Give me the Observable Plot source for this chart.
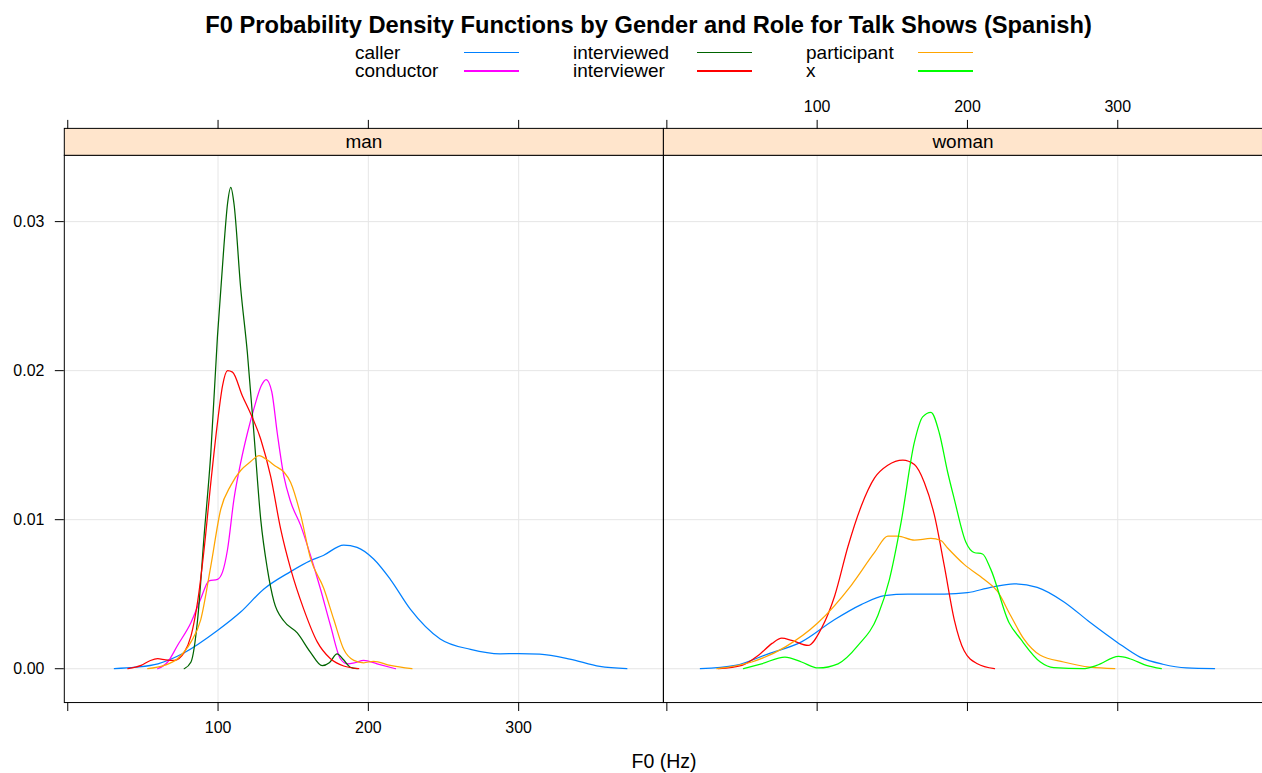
<!DOCTYPE html>
<html>
<head>
<meta charset="utf-8">
<script src="https://cdn.jsdelivr.net/npm/d3@7"></script>
<script src="https://cdn.jsdelivr.net/npm/@observablehq/plot@0.6"></script>
<style>
  html, body { margin: 0; padding: 0; background: #fff; overflow: hidden; }
  body { width: 1262px; height: 773px; position: relative; font-family: "Liberation Sans", Arial, Helvetica, sans-serif; color: #000; }
  .abs { position: absolute; white-space: nowrap; line-height: 1; }
  #title { font-weight: bold; font-size: 23.7px; top: 14px; left: 648.5px; transform: translateX(-50%); }
  .lg { font-size: 19px; line-height: 18px; }
  .ln { position: absolute; height: 1.4px; width: 55px; }
  #xlab { font-size: 19.5px; top: 752px; left: 664px; transform: translateX(-50%); }
  #chart { position: absolute; left: 0; top: 90px; line-height: 0; }
  #chart svg { display: block; }
</style>
</head>
<body>
<div id="title" class="abs">F0 Probability Density Functions by Gender and Role for Talk Shows (Spanish)</div>
<div id="legend"></div>
<div id="chart"></div>
<div id="xlab" class="abs">F0 (Hz)</div>
<script>
// ---- Data (F0 in Hz, density) ----
const genders = ["man", "woman"];
const roles = ["caller", "conductor", "interviewed", "interviewer", "participant", "x"];
const roleColors = ["#0080ff", "#ff00ff", "#006400", "#ff0000", "#ffa500", "#00ff00"];
const xTicks = [0, 100, 200, 300];
const yTicks = [0, 0.01, 0.02, 0.03];

const manCaller = [[31,0],[45,0.0001],[60,0.00033],[77.5,0.00107],[99.6,0.00256],[115,0.0038],[130.5,0.00535],[148,0.0065],[161.5,0.00725],[170,0.0076],[183.6,0.0083],[192.5,0.00814],[203.5,0.00736],[214.6,0.006],[227.9,0.004],[247.8,0.002],[268,0.0013],[287.6,0.001],[300,0.00102],[314,0.00098],[334,0.00065],[354,0.00015],[372,0]];
const manConductor = [[59.8,0],[66.5,0.00045],[73,0.00156],[82,0.0031],[88.5,0.0047],[94,0.0059],[99.6,0.006],[103,0.0065],[106.3,0.008],[110.6,0.0114],[115,0.0138],[119.5,0.0158],[124,0.0175],[128.8,0.019],[132,0.0194],[135.7,0.0186],[139.4,0.0158],[143.8,0.0129],[148.3,0.0112],[155,0.0096],[161.5,0.0076],[168,0.0054],[174.8,0.0029],[181.4,0.00067],[185.9,0.00033],[191,0.0004],[196.9,0.00056],[205.8,0.00033],[218,0]];
const manInterviewed = [[77.5,0],[82,0.00045],[86.4,0.0033],[90.7,0.0089],[95.2,0.0145],[99.6,0.0223],[104,0.0285],[106.3,0.0312],[108.5,0.0323],[110.6,0.0312],[115,0.0256],[119.5,0.0212],[124,0.0156],[128.4,0.01],[132.8,0.0067],[137.2,0.0045],[143.8,0.0032],[152.7,0.0024],[161.5,0.0011],[169.3,0.0002],[174,0.0004],[179.2,0.001],[183.5,0.0006],[188,0.0001],[192.5,0]];
const manInterviewer = [[40,0],[48.8,0.00022],[55,0.00055],[59.8,0.00067],[65,0.0006],[70.8,0.00056],[77.5,0.0011],[82,0.0022],[86.4,0.0045],[90.7,0.008],[95.2,0.0125],[99.6,0.0165],[103,0.019],[106.3,0.02],[109.6,0.0199],[116.2,0.0183],[121.7,0.0171],[128.4,0.0154],[135,0.0129],[141.6,0.0094],[148.3,0.0067],[157,0.004],[166,0.0018],[174.8,0.00067],[183.6,0.00018],[193.6,0]];
const manParticipant = [[53.2,0],[64.2,0.00022],[73,0.00067],[82,0.0018],[88.5,0.0033],[95.2,0.0069],[101.8,0.0107],[108.5,0.0123],[115,0.0133],[121.7,0.0139],[127.2,0.0143],[132.8,0.014],[138,0.0136],[143.8,0.0132],[148.3,0.0125],[155,0.0103],[161.5,0.0074],[170.3,0.0054],[177,0.0033],[183.6,0.0013],[190.3,0.00056],[196.9,0.0004],[203.5,0.0005],[214.6,0.00022],[229,0]];

const womanCaller = [[22.3,0],[45.5,0.00022],[67.5,0.001],[89.6,0.0018],[111.7,0.0033],[129.3,0.0043],[144.8,0.0049],[160.3,0.005],[184.6,0.005],[200,0.0051],[215.4,0.00546],[231,0.0057],[246.4,0.00546],[264,0.0045],[281.7,0.0031],[299.3,0.0018],[314.8,0.00078],[330,0.0003],[345.7,0.00005],[364.4,0]];
const womanInterviewer = [[34.4,0],[49.9,0.00022],[61,0.0009],[70,0.0017],[76.4,0.00205],[83,0.0019],[94,0.00156],[102.8,0.0027],[111.7,0.0049],[120.5,0.0082],[129.3,0.0109],[138.2,0.0128],[147,0.01365],[157,0.014],[164.7,0.0137],[171.3,0.0125],[178,0.0103],[184.6,0.0069],[191.2,0.0033],[197.8,0.0012],[206.6,0.00033],[218,0]];
const womanParticipant = [[33.3,0],[56.5,0.00045],[78.6,0.00145],[100.7,0.0031],[122.7,0.0056],[138.2,0.0078],[147,0.0089],[153.6,0.0089],[164.7,0.00863],[175.7,0.00874],[182.3,0.0086],[186.8,0.0081],[197.8,0.007],[211,0.006],[219.9,0.0052],[228.7,0.00357],[237.5,0.002],[248.5,0.0009],[264,0.00045],[281.7,0.0001],[298,0]];
const womanX = [[51,0],[63,0.00033],[78.6,0.00078],[89.6,0.00045],[100.7,0.00005],[113.9,0.00033],[127.2,0.00156],[140.4,0.00357],[148.1,0.006],[155.8,0.0098],[164.7,0.0152],[170.2,0.0169],[175.7,0.0172],[181.3,0.0158],[186.8,0.0132],[191.2,0.0114],[198.9,0.0085],[204.4,0.0078],[210,0.0077],[215.4,0.0067],[227.6,0.0031],[235.3,0.002],[248.5,0.00045],[257.4,0.00007],[277,0],[286,0.00022],[300.5,0.00082],[308,0.00067],[319,0.00022],[329,0]];

const series = [
  ["man", "caller", manCaller],
  ["man", "conductor", manConductor],
  ["man", "interviewed", manInterviewed],
  ["man", "interviewer", manInterviewer],
  ["man", "participant", manParticipant],
  ["woman", "caller", womanCaller],
  ["woman", "interviewer", womanInterviewer],
  ["woman", "participant", womanParticipant],
  ["woman", "x", womanX]
];
const rows = series.flatMap(([gender, role, pts]) => pts.map(([hz, density]) => ({gender, role, hz, density})));

// ---- Legend (HTML) ----
const legend = document.getElementById("legend");
const legendCols = [355, 573, 806];
const legendLineX = [464, 697, 918];
const legendRowTop = [44, 62.3];
const legendLineY = [52, 70.3];
roles.forEach((r, i) => {
  const col = Math.floor(i / 2), row = i % 2;
  const t = document.createElement("div");
  t.className = "abs lg";
  t.textContent = r;
  t.style.left = legendCols[col] + "px";
  t.style.top = legendRowTop[row] + "px";
  legend.appendChild(t);
  const l = document.createElement("div");
  l.className = "ln";
  l.style.left = legendLineX[col] + "px";
  l.style.top = legendLineY[row] + "px";
  l.style.background = roleColors[i];
  legend.appendChild(l);
});

// ---- Chart ----
const W = 1266, H = 655, mT = 65, mB = 41, mL = 63, mR = 0;
const frameH = H - mT - mB;
const stripH = 27;
const font = '"Liberation Sans", Arial, Helvetica, sans-serif';

const chart = Plot.plot({
  width: W, height: H,
  marginTop: mT, marginBottom: mB, marginLeft: mL, marginRight: mR,
  style: {fontFamily: font, fontSize: "16px", color: "#000", background: "transparent"},
  fx: {domain: genders, padding: 0, axis: null},
  x: {domain: [-2.3, 396.3]},
  y: {domain: [-0.00227, 0.03445]},
  color: {domain: roles, range: roleColors},
  marks: [
    Plot.gridX({ticks: xTicks.filter(d => d > 0), stroke: "#e6e6e6", strokeOpacity: 1}),
    Plot.gridY({ticks: yTicks, stroke: "#e6e6e6", strokeOpacity: 1}),
    Plot.line(rows, {fx: "gender", x: "hz", y: "density", z: "role", stroke: "role", curve: "monotone-x", strokeWidth: 1.25}),
    Plot.frame({stroke: "#000", strokeWidth: 1}),
    // strip
    Plot.frame({fill: "#ffe5cc", stroke: "#000", strokeWidth: 1, insetTop: -stripH, insetBottom: frameH}),
    Plot.text(genders, {fx: d => d, text: d => d, frameAnchor: "top", dy: -stripH / 2, lineAnchor: "middle", fontSize: 19}),
    // y axis (left)
    Plot.axisY({ticks: yTicks, tickFormat: ".2f", tickSize: 9, tickPadding: 11, label: null, fontSize: 16, textStroke: null}),
    // bottom x axes
    Plot.axisX({anchor: "bottom", facetAnchor: "left", ticks: xTicks, tickFormat: d => d === 0 ? "" : String(d), tickSize: 9, tickPadding: 10.5, label: null, fontSize: 16}),
    Plot.axisX({anchor: "bottom", facetAnchor: "right", ticks: xTicks, tickFormat: () => "", tickSize: 9, label: null}),
    // top x axes above strip
    Plot.axisX({anchor: "top", facetAnchor: "left", ticks: xTicks, tickFormat: () => "", tickSize: 9, label: null, dy: -stripH}),
    Plot.axisX({anchor: "top", facetAnchor: "right", ticks: xTicks, tickFormat: d => d === 0 ? "" : String(d), tickSize: 9, tickPadding: 7, label: null, dy: -stripH, fontSize: 16})
  ]
});
document.getElementById("chart").appendChild(chart);
</script>
</body>
</html>
